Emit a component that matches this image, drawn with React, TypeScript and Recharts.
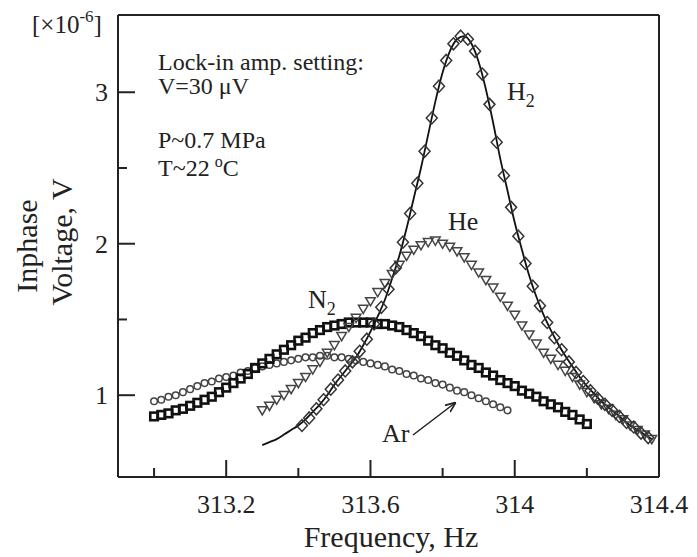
import React from "react";
import { ComposedChart, Line, Scatter, XAxis, YAxis } from "recharts";

// [frequency Hz, inphase voltage x1e-6 V]
const AR: [number, number][] = [
  [313.0, 0.96], [313.02, 0.97], [313.04, 0.99], [313.06, 1.0], [313.08, 1.02],
  [313.1, 1.04], [313.12, 1.06], [313.14, 1.08], [313.16, 1.09], [313.18, 1.11],
  [313.2, 1.12], [313.22, 1.13], [313.24, 1.15], [313.26, 1.16], [313.28, 1.18],
  [313.3, 1.19], [313.32, 1.2], [313.34, 1.21], [313.36, 1.22], [313.38, 1.23],
  [313.4, 1.24], [313.42, 1.25], [313.44, 1.25], [313.46, 1.26], [313.48, 1.26],
  [313.5, 1.25], [313.52, 1.25], [313.54, 1.24], [313.56, 1.23], [313.58, 1.22],
  [313.6, 1.21], [313.62, 1.2], [313.64, 1.19], [313.66, 1.17], [313.68, 1.16],
  [313.7, 1.14], [313.72, 1.13], [313.74, 1.11], [313.76, 1.1], [313.78, 1.08],
  [313.8, 1.07], [313.82, 1.05], [313.84, 1.03], [313.86, 1.02], [313.88, 1.0],
  [313.9, 0.98], [313.92, 0.96], [313.94, 0.94], [313.96, 0.92], [313.98, 0.9],
];

const N2: [number, number][] = [
  [313.0, 0.86], [313.02, 0.87], [313.04, 0.88], [313.06, 0.9], [313.08, 0.91],
  [313.1, 0.93], [313.12, 0.95], [313.14, 0.97], [313.16, 0.99], [313.18, 1.02],
  [313.2, 1.05], [313.22, 1.08], [313.24, 1.11], [313.26, 1.14], [313.28, 1.18],
  [313.3, 1.21], [313.32, 1.24], [313.34, 1.27], [313.36, 1.3], [313.38, 1.33],
  [313.4, 1.36], [313.42, 1.38], [313.44, 1.41], [313.46, 1.43], [313.48, 1.45],
  [313.5, 1.46], [313.52, 1.47], [313.54, 1.48], [313.56, 1.48], [313.58, 1.48],
  [313.6, 1.48], [313.62, 1.47], [313.64, 1.47], [313.66, 1.46], [313.68, 1.45],
  [313.7, 1.43], [313.72, 1.41], [313.74, 1.39], [313.76, 1.36], [313.78, 1.33],
  [313.8, 1.31], [313.82, 1.28], [313.84, 1.26], [313.86, 1.23], [313.88, 1.2],
  [313.9, 1.18], [313.92, 1.15], [313.94, 1.13], [313.96, 1.1], [313.98, 1.08],
  [314.0, 1.06], [314.02, 1.03], [314.04, 1.01], [314.06, 0.99], [314.08, 0.96],
  [314.1, 0.94], [314.12, 0.92], [314.14, 0.89], [314.16, 0.87], [314.18, 0.84],
  [314.2, 0.81],
];

const HE: [number, number][] = [
  [313.3, 0.9], [313.32, 0.93], [313.34, 0.97], [313.36, 1.0], [313.38, 1.04],
  [313.4, 1.08], [313.42, 1.12], [313.44, 1.17], [313.46, 1.22], [313.48, 1.28],
  [313.5, 1.33], [313.52, 1.39], [313.54, 1.45], [313.56, 1.51], [313.58, 1.57],
  [313.6, 1.62], [313.62, 1.68], [313.64, 1.74], [313.66, 1.8], [313.68, 1.86],
  [313.7, 1.92], [313.72, 1.96], [313.74, 1.99], [313.76, 2.01], [313.78, 2.02],
  [313.8, 2.0], [313.82, 1.98], [313.84, 1.95], [313.86, 1.91], [313.88, 1.86],
  [313.9, 1.81], [313.92, 1.76], [313.94, 1.71], [313.96, 1.65], [313.98, 1.59],
  [314.0, 1.53], [314.02, 1.46], [314.04, 1.4], [314.06, 1.34], [314.08, 1.28],
  [314.1, 1.24], [314.12, 1.2], [314.14, 1.16], [314.16, 1.12], [314.18, 1.07],
  [314.2, 1.02], [314.22, 0.98], [314.24, 0.94], [314.26, 0.91], [314.28, 0.87],
  [314.3, 0.84], [314.32, 0.8], [314.34, 0.77], [314.36, 0.74], [314.38, 0.71],
];

const H2: [number, number][] = [
  [313.41, 0.8], [313.43, 0.85], [313.45, 0.91], [313.47, 0.97], [313.49, 1.04],
  [313.51, 1.1], [313.53, 1.16], [313.55, 1.22], [313.57, 1.29], [313.59, 1.37],
  [313.61, 1.47], [313.63, 1.58], [313.65, 1.7], [313.67, 1.84], [313.69, 2.01],
  [313.71, 2.2], [313.73, 2.4], [313.75, 2.61], [313.77, 2.83], [313.79, 3.04],
  [313.81, 3.21], [313.83, 3.32], [313.85, 3.37], [313.87, 3.35], [313.89, 3.27],
  [313.91, 3.12], [313.93, 2.92], [313.95, 2.67], [313.97, 2.45], [313.99, 2.24],
  [314.01, 2.05], [314.03, 1.87], [314.05, 1.72], [314.07, 1.59], [314.09, 1.48],
  [314.11, 1.38], [314.13, 1.3], [314.15, 1.22], [314.17, 1.15], [314.19, 1.09],
  [314.21, 1.03], [314.23, 0.98], [314.25, 0.94], [314.27, 0.9], [314.29, 0.86],
  [314.31, 0.82], [314.33, 0.79], [314.35, 0.75], [314.37, 0.72],
];

// fitted curve through the H2 data
const H2_FIT: [number, number][] = [
  [313.3, 0.67], [313.32, 0.69], [313.34, 0.71], [313.36, 0.74], [313.38, 0.77],
  [313.4, 0.8], [313.42, 0.84], [313.44, 0.89], [313.46, 0.94], [313.48, 1.0],
  [313.5, 1.07], [313.52, 1.13], [313.54, 1.19], [313.56, 1.25], [313.58, 1.33],
  [313.6, 1.42], [313.62, 1.52], [313.64, 1.63], [313.66, 1.77], [313.68, 1.92],
  [313.7, 2.1], [313.72, 2.3], [313.74, 2.5], [313.76, 2.72], [313.78, 2.94],
  [313.8, 3.13], [313.82, 3.27], [313.84, 3.35], [313.86, 3.37], [313.88, 3.32],
  [313.9, 3.2], [313.92, 3.02], [313.94, 2.8], [313.96, 2.56], [313.98, 2.35],
  [314.0, 2.14], [314.02, 1.96], [314.04, 1.79], [314.06, 1.65], [314.08, 1.53],
  [314.1, 1.43], [314.12, 1.34], [314.14, 1.26], [314.16, 1.19], [314.18, 1.12],
  [314.2, 1.06], [314.22, 1.01], [314.24, 0.96], [314.26, 0.92], [314.28, 0.88],
  [314.3, 0.84], [314.32, 0.8], [314.34, 0.77], [314.36, 0.74], [314.38, 0.71],
];

const X_TICKS = [313.0, 313.2, 313.4, 313.6, 313.8, 314.0, 314.2, 314.4];
const X_MAJOR = [313.2, 313.6, 314.0, 314.4];
const Y_TICKS = [1, 1.5, 2, 2.5, 3];
const Y_MAJOR = [1, 2, 3];

const FONT = "Liberation Serif";
const INK = "#222";

const pts = (arr: [number, number][]) => arr.map(([f, v]) => ({ f, v }));

const circle = (p: any) => (
  <circle cx={p.cx} cy={p.cy} r={3.3} fill="none" stroke="#444" strokeWidth={1.5} />
);
const square = (p: any) => (
  <rect x={p.cx - 3.8} y={p.cy - 3.8} width={7.6} height={7.6} fill="none" stroke="#111" strokeWidth={2.6} />
);
const triangle = (p: any) => (
  <polygon
    points={`${p.cx - 4.8},${p.cy - 3.6} ${p.cx + 4.8},${p.cy - 3.6} ${p.cx},${p.cy + 4.6}`}
    fill="none"
    stroke="#444"
    strokeWidth={1.5}
  />
);
const diamond = (p: any) => (
  <polygon
    points={`${p.cx},${p.cy - 6} ${p.cx + 5.5},${p.cy} ${p.cx},${p.cy + 6} ${p.cx - 5.5},${p.cy}`}
    fill="none"
    stroke="#333"
    strokeWidth={1.5}
  />
);

// inward ticks, labels only on bottom / left
function xTick(side: "bottom" | "top") {
  return (props: any) => {
    const { x, y, payload } = props;
    const major = X_MAJOR.includes(payload.value);
    const len = major ? 17 : 9;
    const dir = side === "bottom" ? -1 : 1;
    return (
      <g>
        <line x1={x} y1={y} x2={x} y2={y + dir * len} stroke={INK} strokeWidth={2} />
        {side === "bottom" && major && (
          <text x={x} y={y + 36} textAnchor="middle" style={{ fontFamily: FONT, fontSize: 26, fill: INK }}>
            {String(payload.value)}
          </text>
        )}
      </g>
    );
  };
}

function yTick(side: "left" | "right") {
  return (props: any) => {
    const { x, y, payload } = props;
    const major = Y_MAJOR.includes(payload.value);
    const len = major ? 17 : 9;
    const dir = side === "left" ? 1 : -1;
    return (
      <g>
        <line x1={x} y1={y} x2={x + dir * len} y2={y} stroke={INK} strokeWidth={2} />
        {side === "left" && major && (
          <text x={x - 10} y={y + 9} textAnchor="end" style={{ fontFamily: FONT, fontSize: 26, fill: INK }}>
            {String(payload.value)}
          </text>
        )}
      </g>
    );
  };
}

export default function App() {
  const txt = { fontFamily: FONT, fill: INK };
  return (
    <div style={{ position: "absolute", left: 0, top: 0, width: 697, height: 557, background: "#fff" }}>
      <ComposedChart width={697} height={557} margin={{ top: 14, right: 37, bottom: 79, left: 117 }}>
        <XAxis
          xAxisId={0}
          dataKey="f"
          type="number"
          domain={[312.9, 314.4]}
          ticks={X_TICKS}
          interval={0}
          height={1}
          tickSize={0}
          tickMargin={0}
          tick={xTick("bottom")}
          axisLine={{ stroke: INK, strokeWidth: 2 }}
        />
        <XAxis
          xAxisId="top"
          orientation="top"
          dataKey="f"
          type="number"
          domain={[312.9, 314.4]}
          ticks={X_TICKS}
          interval={0}
          height={1}
          tickSize={0}
          tickMargin={0}
          tick={xTick("top")}
          axisLine={{ stroke: INK, strokeWidth: 2 }}
        />
        <YAxis
          yAxisId={0}
          type="number"
          domain={[0.46, 3.51]}
          ticks={Y_TICKS}
          interval={0}
          width={1}
          tickSize={0}
          tickMargin={0}
          tick={yTick("left")}
          axisLine={{ stroke: INK, strokeWidth: 2 }}
        />
        <YAxis
          yAxisId="right"
          orientation="right"
          type="number"
          domain={[0.46, 3.51]}
          ticks={Y_TICKS}
          interval={0}
          width={1}
          tickSize={0}
          tickMargin={0}
          tick={yTick("right")}
          axisLine={{ stroke: INK, strokeWidth: 2 }}
        />
        <Scatter name="Ar" data={pts(AR)} dataKey="v" shape={circle} isAnimationActive={false} />
        <Scatter name="N2" data={pts(N2)} dataKey="v" shape={square} isAnimationActive={false} />
        <Scatter name="He" data={pts(HE)} dataKey="v" shape={triangle} isAnimationActive={false} />
        <Scatter name="H2" data={pts(H2)} dataKey="v" shape={diamond} isAnimationActive={false} />
        <Line
          data={pts(H2_FIT)}
          dataKey="v"
          type="monotone"
          dot={false}
          stroke="#111"
          strokeWidth={1.8}
          isAnimationActive={false}
        />
      </ComposedChart>

      <svg
        width={697}
        height={557}
        style={{ position: "absolute", left: 0, top: 0, pointerEvents: "none" }}
      >
        <defs>
          <marker id="head" viewBox="0 0 10 10" refX="9" refY="5" markerWidth="7" markerHeight="7" orient="auto">
            <path d="M0,1 L10,5 L0,9" fill="none" stroke={INK} strokeWidth={1.6} />
          </marker>
        </defs>
        <text x={32} y={33} fontSize={25} {...txt}>
          [×10
          <tspan fontSize={17} dy={-11}>-6</tspan>
          <tspan fontSize={25} dy={11}>]</tspan>
        </text>

        <text x={158} y={70} fontSize={24} {...txt}>Lock-in amp. setting:</text>
        <text x={158} y={94} fontSize={24} {...txt}>V=30 μV</text>
        <text x={158} y={148} fontSize={24} {...txt}>P~0.7 MPa</text>
        <text x={158} y={176} fontSize={24} {...txt}>
          T~22
          <tspan fontSize={16} dx={5} dy={-9}>o</tspan>
          <tspan fontSize={24} dy={9}>C</tspan>
        </text>

        <text x={507} y={100} fontSize={26} {...txt}>
          H<tspan fontSize={18} dy={7}>2</tspan>
        </text>
        <text x={448} y={230} fontSize={26} {...txt}>He</text>
        <text x={308} y={308} fontSize={26} {...txt}>
          N<tspan fontSize={18} dy={7}>2</tspan>
        </text>
        <text x={382} y={442} fontSize={26} {...txt}>Ar</text>
        <line x1={413} y1={435} x2={455} y2={403} stroke={INK} strokeWidth={1.5} markerEnd="url(#head)" />

        <text x={391} y={547} fontSize={30} textAnchor="middle" {...txt}>Frequency, Hz</text>
        <text transform="translate(37,246) rotate(-90)" fontSize={30} textAnchor="middle" {...txt}>Inphase</text>
        <text transform="translate(72,242) rotate(-90)" fontSize={30} textAnchor="middle" {...txt}>Voltage, V</text>
      </svg>
    </div>
  );
}
